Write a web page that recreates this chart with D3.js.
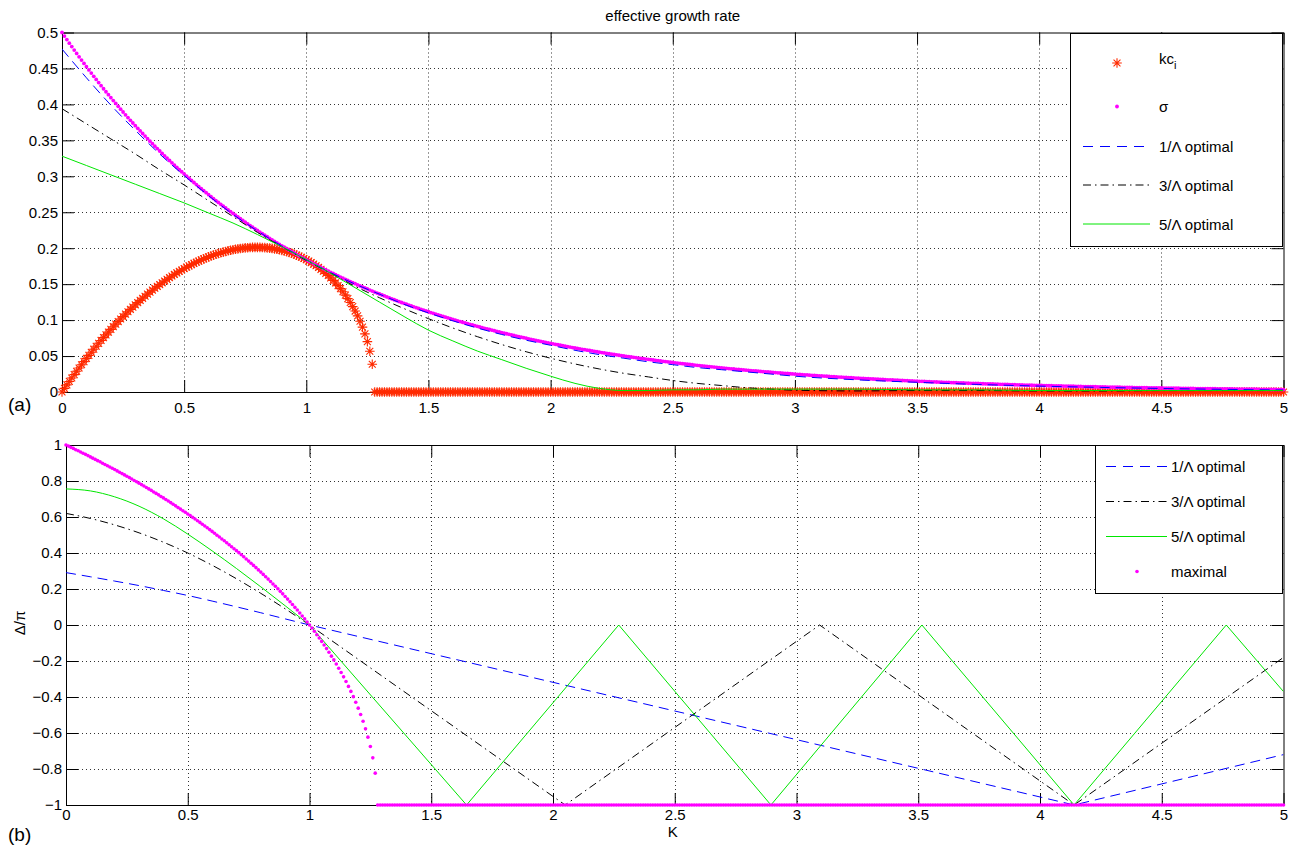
<!DOCTYPE html>
<html>
<head>
<meta charset="utf-8">
<script src="https://cdn.jsdelivr.net/npm/d3@7"></script>
<style>
  body { margin: 0; background: #fff; }
  svg text { font-family: "Liberation Sans", Arial, Helvetica, sans-serif; fill: #000; }
</style>
</head>
<body>
<svg id="fig" width="1293" height="848"></svg>
<script>
// ---------- data ----------
// fine K grid (step 0.01, 0 .. 5) used by the marker series
const kGrid = d3.range(0, 501).map(i => i / 100);

// kc_i (red stars), K = 0 .. 1.27 then zero up to 5
const kcValues = [
  0, 0.0050, 0.0099, 0.0147, 0.0195, 0.0242, 0.0288, 0.0334, 0.0379, 0.0423,
  0.0467, 0.0510, 0.0553, 0.0595, 0.0636, 0.0677, 0.0717, 0.0756, 0.0795, 0.0833,
  0.0871, 0.0908, 0.0944, 0.0980, 0.1015, 0.1049, 0.1083, 0.1116, 0.1149, 0.1181,
  0.1213, 0.1243, 0.1274, 0.1303, 0.1332, 0.1361, 0.1389, 0.1416, 0.1443, 0.1469,
  0.1494, 0.1519, 0.1544, 0.1567, 0.1590, 0.1613, 0.1635, 0.1656, 0.1677, 0.1697,
  0.1717, 0.1736, 0.1754, 0.1772, 0.1789, 0.1805, 0.1821, 0.1837, 0.1851, 0.1865,
  0.1879, 0.1892, 0.1904, 0.1915, 0.1926, 0.1937, 0.1946, 0.1955, 0.1964, 0.1972,
  0.1979, 0.1985, 0.1991, 0.1996, 0.2000, 0.2004, 0.2007, 0.2009, 0.2011, 0.2012,
  0.2012, 0.2011, 0.2010, 0.2008, 0.2005, 0.2001, 0.1997, 0.1991, 0.1985, 0.1978,
  0.1970, 0.1962, 0.1952, 0.1941, 0.1930, 0.1917, 0.1904, 0.1889, 0.1874, 0.1857,
  0.1839, 0.1820, 0.1800, 0.1779, 0.1756, 0.1732, 0.1706, 0.1679, 0.1650, 0.1620,
  0.1587, 0.1553, 0.1517, 0.1479, 0.1438, 0.1394, 0.1348, 0.1298, 0.1245, 0.1188,
  0.1126, 0.1059, 0.0984, 0.0902, 0.0808, 0.0700, 0.0567, 0.0386,
  0,0,0,0,0,0,0,0,0,0, 0,0,0,0,0,0,0,0,0,0, 0,0,0,0,0,0,0,0,0,0, 0,0,0,0,0,0,0,0,0,0,
  0,0,0,0,0,0,0,0,0,0, 0,0,0,0,0,0,0,0,0,0, 0,0,0,0,0,0,0,0,0,0, 0,0,0,0,0,0,0,0,0,0,
  0,0,0,0,0,0,0,0,0,0, 0,0,0,0,0,0,0,0,0,0, 0,0,0,0,0,0,0,0,0,0, 0,0,0,0,0,0,0,0,0,0,
  0,0,0,0,0,0,0,0,0,0, 0,0,0,0,0,0,0,0,0,0, 0,0,0,0,0,0,0,0,0,0, 0,0,0,0,0,0,0,0,0,0,
  0,0,0,0,0,0,0,0,0,0, 0,0,0,0,0,0,0,0,0,0, 0,0,0,0,0,0,0,0,0,0, 0,0,0,0,0,0,0,0,0,0,
  0,0,0,0,0,0,0,0,0,0, 0,0,0,0,0,0,0,0,0,0, 0,0,0,0,0,0,0,0,0,0, 0,0,0,0,0,0,0,0,0,0,
  0,0,0,0,0,0,0,0,0,0, 0,0,0,0,0,0,0,0,0,0, 0,0,0,0,0,0,0,0,0,0, 0,0,0,0,0,0,0,0,0,0,
  0,0,0,0,0,0,0,0,0,0, 0,0,0,0,0,0,0,0,0,0, 0,0,0,0,0,0,0,0,0,0, 0,0,0,0,0,0,0,0,0,0,
  0,0,0,0,0,0,0,0,0,0, 0,0,0,0,0,0,0,0,0,0, 0,0,0,0,0,0,0,0,0,0, 0,0,0,0,0,0,0,0,0,0,
  0,0,0,0,0,0,0,0,0,0, 0,0,0
];

// sigma (magenta dots), K = 0 .. 5
const sigmaValues = [
  0.5000,0.4950,0.4901,0.4852,0.4804,0.4756,0.4709,0.4662,0.4616,0.4570,
  0.4524,0.4479,0.4435,0.4390,0.4347,0.4304,0.4261,0.4218,0.4176,0.4135,
  0.4094,0.4053,0.4013,0.3973,0.3933,0.3894,0.3855,0.3817,0.3779,0.3741,
  0.3704,0.3667,0.3631,0.3595,0.3559,0.3523,0.3488,0.3454,0.3419,0.3385,
  0.3352,0.3318,0.3285,0.3253,0.3220,0.3188,0.3156,0.3125,0.3094,0.3063,
  0.3033,0.3003,0.2973,0.2943,0.2914,0.2885,0.2856,0.2828,0.2800,0.2772,
  0.2744,0.2717,0.2690,0.2663,0.2637,0.2610,0.2584,0.2559,0.2533,0.2508,
  0.2483,0.2458,0.2434,0.2410,0.2386,0.2362,0.2338,0.2315,0.2292,0.2269,
  0.2247,0.2224,0.2202,0.2180,0.2159,0.2137,0.2116,0.2095,0.2074,0.2053,
  0.2033,0.2013,0.1993,0.1973,0.1953,0.1934,0.1915,0.1895,0.1877,0.1858,
  0.1839,0.1821,0.1803,0.1785,0.1767,0.1750,0.1732,0.1715,0.1698,0.1681,
  0.1664,0.1648,0.1631,0.1615,0.1599,0.1583,0.1567,0.1552,0.1536,0.1521,
  0.1506,0.1491,0.1476,0.1461,0.1447,0.1433,0.1418,0.1404,0.1390,0.1376,
  0.1363,0.1349,0.1336,0.1322,0.1309,0.1296,0.1283,0.1271,0.1258,0.1245,
  0.1233,0.1221,0.1209,0.1197,0.1185,0.1173,0.1161,0.1150,0.1138,0.1127,
  0.1116,0.1105,0.1094,0.1083,0.1072,0.1061,0.1051,0.1040,0.1030,0.1020,
  0.1009,0.0999,0.0989,0.0980,0.0970,0.0960,0.0951,0.0941,0.0932,0.0923,
  0.0913,0.0904,0.0895,0.0886,0.0878,0.0869,0.0860,0.0852,0.0843,0.0835,
  0.0827,0.0818,0.0810,0.0802,0.0794,0.0786,0.0778,0.0771,0.0763,0.0755,
  0.0748,0.0740,0.0733,0.0726,0.0718,0.0711,0.0704,0.0697,0.0690,0.0683,
  0.0677,0.0670,0.0663,0.0657,0.0650,0.0644,0.0637,0.0631,0.0625,0.0618,
  0.0612,0.0606,0.0600,0.0594,0.0588,0.0582,0.0577,0.0571,0.0565,0.0560,
  0.0554,0.0548,0.0543,0.0538,0.0532,0.0527,0.0522,0.0517,0.0511,0.0506,
  0.0501,0.0496,0.0491,0.0487,0.0482,0.0477,0.0472,0.0467,0.0463,0.0458,
  0.0454,0.0449,0.0445,0.0440,0.0436,0.0431,0.0427,0.0423,0.0419,0.0415,
  0.0410,0.0406,0.0402,0.0398,0.0394,0.0390,0.0386,0.0383,0.0379,0.0375,
  0.0371,0.0368,0.0364,0.0360,0.0357,0.0353,0.0350,0.0346,0.0343,0.0339,
  0.0336,0.0333,0.0329,0.0326,0.0323,0.0320,0.0316,0.0313,0.0310,0.0307,
  0.0304,0.0301,0.0298,0.0295,0.0292,0.0289,0.0286,0.0283,0.0281,0.0278,
  0.0275,0.0272,0.0270,0.0267,0.0264,0.0262,0.0259,0.0257,0.0254,0.0251,
  0.0249,0.0246,0.0244,0.0242,0.0239,0.0237,0.0234,0.0232,0.0230,0.0228,
  0.0225,0.0223,0.0221,0.0219,0.0216,0.0214,0.0212,0.0210,0.0208,0.0206,
  0.0204,0.0202,0.0200,0.0198,0.0196,0.0194,0.0192,0.0190,0.0188,0.0186,
  0.0184,0.0183,0.0181,0.0179,0.0177,0.0175,0.0174,0.0172,0.0170,0.0169,
  0.0167,0.0165,0.0164,0.0162,0.0160,0.0159,0.0157,0.0156,0.0154,0.0152,
  0.0151,0.0149,0.0148,0.0147,0.0145,0.0144,0.0142,0.0141,0.0139,0.0138,
  0.0137,0.0135,0.0134,0.0133,0.0131,0.0130,0.0129,0.0127,0.0126,0.0125,
  0.0124,0.0122,0.0121,0.0120,0.0119,0.0118,0.0116,0.0115,0.0114,0.0113,
  0.0112,0.0111,0.0110,0.0109,0.0107,0.0106,0.0105,0.0104,0.0103,0.0102,
  0.0101,0.0100,0.0099,0.0098,0.0097,0.0096,0.0095,0.0094,0.0093,0.0092,
  0.0092,0.0091,0.0090,0.0089,0.0088,0.0087,0.0086,0.0085,0.0085,0.0084,
  0.0083,0.0082,0.0081,0.0080,0.0080,0.0079,0.0078,0.0077,0.0076,0.0076,
  0.0075,0.0074,0.0073,0.0073,0.0072,0.0071,0.0071,0.0070,0.0069,0.0069,
  0.0068,0.0067,0.0066,0.0066,0.0065,0.0065,0.0064,0.0063,0.0063,0.0062,
  0.0061,0.0061,0.0060,0.0060,0.0059,0.0058,0.0058,0.0057,0.0057,0.0056,
  0.0056,0.0055,0.0054,0.0054,0.0053,0.0053,0.0052,0.0052,0.0051,0.0051,
  0.0050,0.0050,0.0049,0.0049,0.0048,0.0048,0.0047,0.0047,0.0046,0.0046,
  0.0045,0.0045,0.0045,0.0044,0.0044,0.0043,0.0043,0.0042,0.0042,0.0042,
  0.0041,0.0041,0.0040,0.0040,0.0040,0.0039,0.0039,0.0038,0.0038,0.0038,
  0.0037,0.0037,0.0036,0.0036,0.0036,0.0035,0.0035,0.0035,0.0034,0.0034,
  0.0034
];

// maximal Delta/pi (magenta dots, lower panel), K = 0 .. 1.27 then -1 up to 5
const maximalValues = [
  1.000,0.994,0.987,0.981,0.974,0.968,0.961,0.954,0.948,0.941,
  0.934,0.927,0.920,0.913,0.907,0.899,0.892,0.885,0.878,0.871,
  0.864,0.856,0.849,0.841,0.834,0.826,0.819,0.811,0.803,0.796,
  0.788,0.780,0.772,0.764,0.756,0.748,0.739,0.731,0.723,0.714,
  0.706,0.697,0.689,0.680,0.671,0.662,0.653,0.644,0.635,0.626,
  0.617,0.608,0.598,0.589,0.579,0.570,0.560,0.550,0.540,0.530,
  0.520,0.510,0.499,0.489,0.478,0.468,0.457,0.446,0.435,0.424,
  0.413,0.402,0.390,0.379,0.367,0.355,0.343,0.331,0.319,0.306,
  0.294,0.281,0.268,0.255,0.242,0.228,0.215,0.201,0.187,0.173,
  0.158,0.144,0.129,0.114,0.098,0.083,0.067,0.050,0.034,0.017,
  0.000,-0.017,-0.035,-0.054,-0.072,-0.091,-0.111,-0.131,-0.151,-0.173,
  -0.194,-0.217,-0.240,-0.264,-0.288,-0.314,-0.341,-0.369,-0.398,-0.429,
  -0.462,-0.497,-0.535,-0.577,-0.623,-0.675,-0.738,-0.823,
  -1,-1,-1,-1,-1,-1,-1,-1,-1,-1, -1,-1,-1,-1,-1,-1,-1,-1,-1,-1, -1,-1,-1,-1,-1,-1,-1,-1,-1,-1, -1,-1,-1,-1,-1,-1,-1,-1,-1,-1,
  -1,-1,-1,-1,-1,-1,-1,-1,-1,-1, -1,-1,-1,-1,-1,-1,-1,-1,-1,-1, -1,-1,-1,-1,-1,-1,-1,-1,-1,-1, -1,-1,-1,-1,-1,-1,-1,-1,-1,-1,
  -1,-1,-1,-1,-1,-1,-1,-1,-1,-1, -1,-1,-1,-1,-1,-1,-1,-1,-1,-1, -1,-1,-1,-1,-1,-1,-1,-1,-1,-1, -1,-1,-1,-1,-1,-1,-1,-1,-1,-1,
  -1,-1,-1,-1,-1,-1,-1,-1,-1,-1, -1,-1,-1,-1,-1,-1,-1,-1,-1,-1, -1,-1,-1,-1,-1,-1,-1,-1,-1,-1, -1,-1,-1,-1,-1,-1,-1,-1,-1,-1,
  -1,-1,-1,-1,-1,-1,-1,-1,-1,-1, -1,-1,-1,-1,-1,-1,-1,-1,-1,-1, -1,-1,-1,-1,-1,-1,-1,-1,-1,-1, -1,-1,-1,-1,-1,-1,-1,-1,-1,-1,
  -1,-1,-1,-1,-1,-1,-1,-1,-1,-1, -1,-1,-1,-1,-1,-1,-1,-1,-1,-1, -1,-1,-1,-1,-1,-1,-1,-1,-1,-1, -1,-1,-1,-1,-1,-1,-1,-1,-1,-1,
  -1,-1,-1,-1,-1,-1,-1,-1,-1,-1, -1,-1,-1,-1,-1,-1,-1,-1,-1,-1, -1,-1,-1,-1,-1,-1,-1,-1,-1,-1, -1,-1,-1,-1,-1,-1,-1,-1,-1,-1,
  -1,-1,-1,-1,-1,-1,-1,-1,-1,-1, -1,-1,-1,-1,-1,-1,-1,-1,-1,-1, -1,-1,-1,-1,-1,-1,-1,-1,-1,-1, -1,-1,-1,-1,-1,-1,-1,-1,-1,-1,
  -1,-1,-1,-1,-1,-1,-1,-1,-1,-1, -1,-1,-1,-1,-1,-1,-1,-1,-1,-1, -1,-1,-1,-1,-1,-1,-1,-1,-1,-1, -1,-1,-1,-1,-1,-1,-1,-1,-1,-1,
  -1,-1,-1,-1,-1,-1,-1,-1,-1,-1, -1,-1,-1
];

// upper panel line series
const topK      = [0,0.1,0.2,0.3,0.4,0.5,0.6,0.7,0.8,0.9,1.0,1.1,1.2,1.3,1.4,1.5,1.6,1.7,1.8,1.9,2.0,
                   2.1,2.2,2.3,2.4,2.5,2.6,2.7,2.8,2.9,3.0,3.25,3.5,3.75,4.0,4.25,4.5,4.75,5.0];
const blueTop   = [0.477,0.437,0.399,0.364,0.331,0.301,0.273,0.247,0.224,0.203,0.184,
                   0.166,0.150,0.136,0.122,0.110,0.099,0.089,0.080,0.072,0.065,
                   0.058,0.052,0.047,0.042,0.038,0.034,0.031,0.028,0.025,0.022,
                   0.017,0.0135,0.0105,0.0082,0.0064,0.0049,0.0037,0.0028];
const blackTop  = [0.394,0.373,0.352,0.331,0.309,0.288,0.266,0.244,0.222,0.202,0.183,
                   0.165,0.147,0.131,0.116,0.102,0.089,0.077,0.066,0.056,0.047,
                   0.039,0.032,0.026,0.021,0.016,0.012,0.009,0.006,0.004,0.0025,
                   0.0015,0.002,0.002,0.0015,0.0015,0.002,0.002,0.002];
const greenTop  = [0.328,0.315,0.302,0.289,0.276,0.263,0.249,0.235,0.219,0.202,0.184,
                   0.165,0.145,0.125,0.105,0.086,0.071,0.057,0.045,0.033,0.022,
                   0.012,0.005,0.002,0.002,0.003,0.003,0.004,0.004,0.004,0.004,
                   0.004,0.003,0.003,0.002,0.002,0.002,0.002,0.002];

// lower panel line series (Delta/pi)
const blueBotK  = [0,0.1,0.2,0.3,0.4,0.5,0.6,0.7,0.8,0.9,1.0,4.14,5.0];
const blueBot   = [0.291,0.268,0.244,0.219,0.192,0.164,0.133,0.101,0.068,0.034,0,-1,-0.72];
const blackBotK = [0,0.1,0.2,0.3,0.4,0.5,0.6,0.7,0.8,0.9,1.0,2.05,3.095,4.14,5.0];
const blackBot  = [0.620,0.592,0.556,0.512,0.460,0.400,0.332,0.257,0.176,0.090,0,-1,0,-1,-0.18];
const greenBotK = [0,0.1,0.2,0.3,0.4,0.5,0.6,0.7,0.8,0.9,1.0,1.645,2.27,2.895,3.515,4.14,4.765,5.0];
const greenBot  = [0.756,0.745,0.712,0.660,0.590,0.505,0.412,0.314,0.212,0.107,0,-1,0,-1,0,-1,0,-0.37];

// ticks
const xTicks    = [0,0.5,1,1.5,2,2.5,3,3.5,4,4.5,5];
const topYTicks = [0,0.05,0.1,0.15,0.2,0.25,0.3,0.35,0.4,0.45,0.5];
const botYTicks = [-1,-0.8,-0.6,-0.4,-0.2,0,0.2,0.4,0.6,0.8,1];

// ---------- layout ----------
const svg = d3.select("#fig");
const boxA = {left: 62, right: 1283.5, top: 32.5, bottom: 392};
const boxB = {left: 66, right: 1283.5, top: 445, bottom: 805};

const xA = d3.scaleLinear().domain([0, 5]).range([boxA.left, boxA.right]);
const yA = d3.scaleLinear().domain([0, 0.5]).range([boxA.bottom, boxA.top]);
const xB = d3.scaleLinear().domain([0, 5]).range([boxB.left, boxB.right]);
const yB = d3.scaleLinear().domain([-1, 1]).range([boxB.bottom, boxB.top]);

const RED = "#ff2a00", MAG = "#ff00ff", BLUE = "#0000ff", GREEN = "#00e600";
const FONT = 15;
const fmtNum = d => String(+d.toFixed(2)).replace("-", "\u2212");

function starPath(r) {
  const a = r * 0.72;
  return `M${-r},0H${r}M0,${-r}V${r}M${-a},${-a}L${a},${a}M${-a},${a}L${a},${-a}`;
}

function styleAxis(g) {
  g.attr("font-size", FONT).attr("font-family", null);
  g.selectAll(".domain").attr("stroke", "#000");
  g.selectAll(".tick line").attr("stroke", "#000");
  g.selectAll(".tick text").attr("fill", "#000");
}

function drawFrame(root, x, y, box, yTicks, clipId, xPad) {
  root.append("clipPath").attr("id", clipId)
    .append("rect").attr("x", box.left).attr("y", box.top)
    .attr("width", box.right - box.left).attr("height", box.bottom - box.top);

  const grid = root.append("g").attr("stroke", "#333").attr("stroke-dasharray", "1,3").attr("stroke-width", 1);
  grid.selectAll("line.gx").data(xTicks.slice(1, -1)).join("line")
    .attr("x1", d => Math.round(x(d)) + 0.5).attr("x2", d => Math.round(x(d)) + 0.5)
    .attr("y1", box.top).attr("y2", box.bottom);
  grid.selectAll("line.gy").data(yTicks.slice(1, -1)).join("line")
    .attr("y1", d => Math.round(y(d)) + 0.5).attr("y2", d => Math.round(y(d)) + 0.5)
    .attr("x1", box.left).attr("x2", box.right);

  root.append("g").attr("transform", `translate(0,${box.bottom})`)
    .call(d3.axisBottom(x).tickValues(xTicks).tickSizeInner(-12).tickSizeOuter(0).tickPadding(xPad).tickFormat(fmtNum))
    .call(styleAxis);
  root.append("g").attr("transform", `translate(0,${box.top})`)
    .call(d3.axisTop(x).tickValues(xTicks).tickSizeInner(-12).tickSizeOuter(0).tickFormat(() => ""))
    .call(styleAxis);
  root.append("g").attr("transform", `translate(${box.left},0)`)
    .call(d3.axisLeft(y).tickValues(yTicks).tickSizeInner(-12).tickSizeOuter(0).tickPadding(4).tickFormat(fmtNum))
    .call(styleAxis);
  root.append("g").attr("transform", `translate(${box.right},0)`)
    .call(d3.axisRight(y).tickValues(yTicks).tickSizeInner(-12).tickSizeOuter(0).tickFormat(() => ""))
    .call(styleAxis);
}

// smooth part (K <= splitK) and straight part (K >= splitK) drawn as one path
function drawLine(root, x, y, ks, vs, color, dash, clipId, splitK) {
  const pts = ks.map((k, i) => [k, vs[i]]);
  const smooth = d3.line().x(d => x(d[0])).y(d => y(d[1])).curve(d3.curveMonotoneX);
  const straight = d3.line().x(d => x(d[0])).y(d => y(d[1]));
  const a = pts.filter(p => p[0] <= splitK), b = pts.filter(p => p[0] >= splitK);
  let dStr = smooth(a);
  if (b.length > 1) dStr += straight(b).replace(/^M/, "L");
  root.append("path")
    .attr("clip-path", `url(#${clipId})`)
    .attr("fill", "none").attr("stroke", color).attr("stroke-width", 1)
    .attr("stroke-dasharray", dash)
    .attr("d", dStr);
}

// ---------- upper panel ----------
const panelA = svg.append("g");
drawFrame(panelA, xA, yA, boxA, topYTicks, "clipA", 10);

panelA.append("g").selectAll("path").data(kcValues).join("path")
  .attr("d", starPath(4.8))
  .attr("transform", (d, i) => `translate(${xA(kGrid[i])},${yA(d)})`)
  .attr("fill", "none").attr("stroke", RED).attr("stroke-width", 1.1);

panelA.append("g").selectAll("circle").data(sigmaValues).join("circle")
  .attr("cx", (d, i) => xA(kGrid[i])).attr("cy", d => yA(d))
  .attr("r", 1.9).attr("fill", MAG);

drawLine(panelA, xA, yA, topK, blueTop,  BLUE,  "10,6",      "clipA", 5);
drawLine(panelA, xA, yA, topK, blackTop, "#000", "8,4,1.5,4", "clipA", 5);
drawLine(panelA, xA, yA, topK, greenTop, GREEN, null,        "clipA", 5);

svg.append("text").attr("x", (boxA.left + boxA.right) / 2).attr("y", 21)
  .attr("text-anchor", "middle").attr("font-size", FONT).text("effective growth rate");
svg.append("text").attr("x", 8).attr("y", 411).attr("font-size", 19).text("(a)");

// upper legend
const lgA = svg.append("g");
lgA.append("rect").attr("x", 1070.5).attr("y", 33.5).attr("width", 212).attr("height", 213)
  .attr("fill", "#fff").attr("stroke", "#000").attr("stroke-width", 1);
lgA.append("path").attr("d", starPath(4.8)).attr("transform", "translate(1117,63)")
  .attr("fill", "none").attr("stroke", RED).attr("stroke-width", 1.1);
const kcText = lgA.append("text").attr("x", 1159).attr("y", 64).attr("font-size", FONT).text("kc");
kcText.append("tspan").attr("dy", 5).attr("font-size", 11).text("i");
lgA.append("circle").attr("cx", 1117).attr("cy", 106.5).attr("r", 1.9).attr("fill", MAG);
lgA.append("text").attr("x", 1159).attr("y", 112).attr("font-size", FONT).text("\u03c3");
[["1/\u039b optimal", BLUE, "10,7", 146.5], ["3/\u039b optimal", "#000", "8,4,1.5,4", 185], ["5/\u039b optimal", GREEN, null, 224]]
  .forEach(([label, color, dash, yy]) => {
    lgA.append("line").attr("x1", 1083).attr("x2", 1150).attr("y1", yy).attr("y2", yy)
      .attr("stroke", color).attr("stroke-dasharray", dash);
    lgA.append("text").attr("x", 1159).attr("y", yy + 5.5).attr("font-size", FONT).text(label);
  });

// ---------- lower panel ----------
const panelB = svg.append("g");
drawFrame(panelB, xB, yB, boxB, botYTicks, "clipB", 4);

drawLine(panelB, xB, yB, blueBotK,  blueBot,  BLUE,  "10,6",      "clipB", 1);
drawLine(panelB, xB, yB, blackBotK, blackBot, "#000", "8,4,1.5,4", "clipB", 1);
drawLine(panelB, xB, yB, greenBotK, greenBot, GREEN, null,        "clipB", 1);

panelB.append("g").selectAll("circle").data(maximalValues).join("circle")
  .attr("cx", (d, i) => xB(kGrid[i])).attr("cy", d => yB(d))
  .attr("r", 1.8).attr("fill", MAG);

svg.append("text").attr("x", (boxB.left + boxB.right) / 2 - 2).attr("y", 837)
  .attr("text-anchor", "middle").attr("font-size", FONT).text("K");
svg.append("text").attr("transform", "translate(25,623) rotate(-90)")
  .attr("text-anchor", "middle").attr("font-size", FONT).text("\u0394/\u03c0");
svg.append("text").attr("x", 8).attr("y", 841).attr("font-size", 19).text("(b)");

// lower legend
const lgB = svg.append("g");
lgB.append("rect").attr("x", 1095.5).attr("y", 445.5).attr("width", 187).attr("height", 148)
  .attr("fill", "#fff").attr("stroke", "#000").attr("stroke-width", 1);
[["1/\u039b optimal", BLUE, "10,7", 466.5], ["3/\u039b optimal", "#000", "8,4,1.5,4", 501.5], ["5/\u039b optimal", GREEN, null, 536.5]]
  .forEach(([label, color, dash, yy]) => {
    lgB.append("line").attr("x1", 1106).attr("x2", 1167).attr("y1", yy).attr("y2", yy)
      .attr("stroke", color).attr("stroke-dasharray", dash);
    lgB.append("text").attr("x", 1171).attr("y", yy + 5.8).attr("font-size", FONT).text(label);
  });
lgB.append("circle").attr("cx", 1137).attr("cy", 571.5).attr("r", 1.8).attr("fill", MAG);
lgB.append("text").attr("x", 1171).attr("y", 577).attr("font-size", FONT).text("maximal");
</script>
</body>
</html>
